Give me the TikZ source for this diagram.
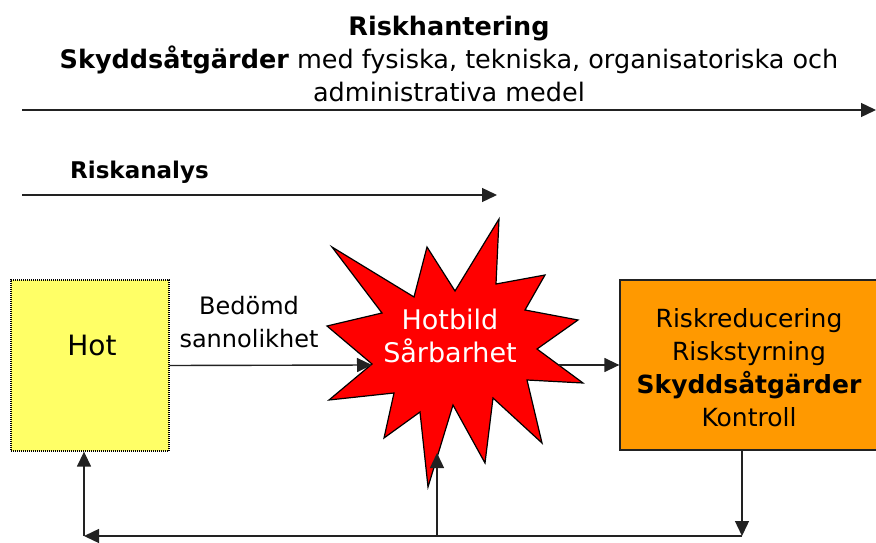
\documentclass[tikz,border=0pt]{standalone}
\usepackage{fontspec}
\setmainfont{DejaVu Sans}
\usetikzlibrary{arrows.meta}
\definecolor{hotyellow}{HTML}{FFFF66}
\definecolor{measureorange}{HTML}{FF9900}
\definecolor{threatred}{HTML}{FF0000}
\definecolor{inkline}{HTML}{222222}
\begin{document}
\begin{tikzpicture}[x=1pt,y=-1pt,
  lbl/.style={inner sep=0pt, align=center, font=\fontsize{23}{33}\selectfont},
  conn/.style={line width=1.4pt, draw=inkline, -{Triangle[length=15pt,width=14pt]}},
  hotbox/.style={draw=black, fill=hotyellow, line width=1.3pt,
    dash pattern=on 1pt off 1pt, inner sep=0pt, minimum width=158pt, minimum height=171pt},
  ctrlbox/.style={draw=inkline, fill=measureorange, line width=1.3pt,
    inner sep=0pt, minimum width=257pt, minimum height=170pt},
  burst/.style={draw=black, fill=threatred, line width=1.2pt, line join=miter}
]
\useasboundingbox (0,0) rectangle (876,543);

% header texts and their timeline arrows
\node[lbl, font=\fontsize{25.5}{33}\selectfont] (title) at (449,59) {\textbf{Riskhantering}\\\textbf{Skyddsåtgärder} med fysiska, tekniska, organisatoriska och\\administrativa medel};
\coordinate (rhS) at (22,110);
\coordinate (rhE) at (876,110);
\draw[conn] (rhS) -- (rhE);

\node[lbl, anchor=west] (ra) at (70,172) {\textbf{Riskanalys}};
\coordinate (raS) at (22,195);
\coordinate (raE) at (497,195);
\draw[conn] (raS) -- (raE);

% threat box
\node[hotbox] (hot) at (90,365.5) {};
\node[lbl, font=\fontsize{28}{33}\selectfont] (hottext) at (92,345) {Hot};

% starburst
\draw[burst] (332,247) -- (414,297) -- (427,247) -- (455,291) -- (499,219)
  -- (496,284) -- (545,275) -- (525,310) -- (578,320) -- (537,349)
  -- (583,383) -- (527,380) -- (542,443) -- (493,398) -- (485,463)
  -- (453,405) -- (428,487) -- (420,412) -- (384,438) -- (394,393)
  -- (329,400) -- (372,364) -- (327,326) -- (382,313) -- cycle;
\node[lbl, text=white, font=\fontsize{27}{33}\selectfont] (star) at (450,336) {Hotbild\\Sårbarhet};

% control box
\node[ctrlbox] (ctrl) at (748.5,365) {};
\node[lbl, font=\fontsize{25}{33}\selectfont] (ctrltext) at (749,368) {Riskreducering\\Riskstyrning\\\textbf{Skyddsåtgärder}\\Kontroll};

% label on the first connector
\node[lbl, font=\fontsize{24}{33}\selectfont] (prob) at (249,322) {Bedömd\\sannolikhet};

% connectors
\coordinate (starL) at (372,365);
\coordinate (starR) at (558.6,365);
\coordinate (starB) at (437,453);
\coordinate (down) at (742,536);
\coordinate (mid) at (437,536);
\coordinate (corner) at (84,536);
\draw[conn] (hot.east) -- (starL);
\draw[conn] (starR) -- (ctrl.west);
\draw[conn] (ctrl.south -| down) -- (down);
\draw[conn] (down) -- (corner);
\draw[conn] (corner) -- (hot.south -| corner);
\draw[conn] (mid) -- (starB);
\end{tikzpicture}
\end{document}
